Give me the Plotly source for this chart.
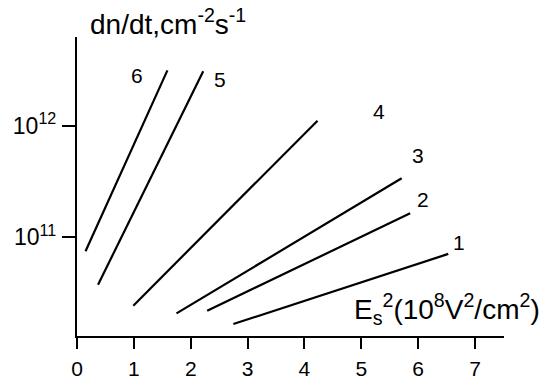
import numpy as np
import plotly.graph_objects as go

# Generation rate vs. squared surface field, six curves (endpoints of each line)
curve_names = ["1", "2", "3", "4", "5", "6"]
x_start = [2.75, 2.29, 1.75, 0.99, 0.37, 0.15]
x_end = [6.53, 5.86, 5.71, 4.23, 2.22, 1.59]
rate_start = [1.67e10, 2.2e10, 2.08e10, 2.44e10, 3.76e10, 7.5e10]
rate_end = [7.1e10, 1.64e11, 3.38e11, 1.11e12, 3.08e12, 3.13e12]

# Curve number label positions
label_x = [6.72, 6.08, 6.00, 5.31, 2.51, 1.05]
label_rate = [9.0e10, 2.16e11, 5.38e11, 1.35e12, 2.57e12, 2.84e12]

x_ticks = [0, 1, 2, 3, 4, 5, 6, 7]
y_ticks = [1e11, 1e12]
y_tick_text = ["10<sup>11</sup>", "10<sup>12</sup>"]

FONT = "Liberation Sans, Arial, sans-serif"

fig = go.Figure()
for i, name in enumerate(curve_names):
    fig.add_trace(go.Scatter(
        x=[x_start[i], x_end[i]],
        y=[rate_start[i], rate_end[i]],
        mode="lines",
        line=dict(color="black", width=2.2),
        name=name,
        showlegend=False,
        hoverinfo="skip",
    ))
    fig.add_annotation(
        x=label_x[i], y=np.log10(label_rate[i]),
        text=name, showarrow=False,
        font=dict(family=FONT, size=21, color="black"),
        xanchor="center", yanchor="middle",
    )

fig.add_annotation(
    xref="paper", yref="paper", x=0.026, y=1.05,
    text="dn/dt,cm<sup>-2</sup>s<sup>-1</sup>", showarrow=False,
    font=dict(family=FONT, size=28, color="black"),
    xanchor="left", yanchor="middle",
)
fig.add_annotation(
    xref="paper", yref="paper", x=1.088, y=0.09,
    text="E<sub>s</sub><sup>2</sup>(10<sup>8</sup>V<sup>2</sup>/cm<sup>2</sup>)",
    showarrow=False,
    font=dict(family=FONT, size=28, color="black"),
    xanchor="right", yanchor="middle",
)

fig.update_xaxes(
    range=[0, 7.51], tickvals=x_ticks, ticks="outside", ticklen=11, tickwidth=2,
    tickcolor="black", showline=True, linecolor="black", linewidth=2.2,
    showgrid=False, zeroline=False, ticklabelstandoff=2, automargin=False,
    tickfont=dict(family=FONT, size=21, color="black"),
)
fig.update_yaxes(
    type="log", range=[10.1156, 12.795], tickvals=y_ticks, ticktext=y_tick_text,
    ticks="outside", ticklen=13, tickwidth=2, tickcolor="black",
    showline=True, linecolor="black", linewidth=2.2,
    showgrid=False, zeroline=False, ticklabelstandoff=1, automargin=False,
    tickfont=dict(family=FONT, size=23, color="black"),
)
fig.update_layout(
    width=544, height=380,
    margin=dict(l=77, r=40, t=37, b=44),
    plot_bgcolor="white", paper_bgcolor="white",
)
fig.write_html("out.html")
